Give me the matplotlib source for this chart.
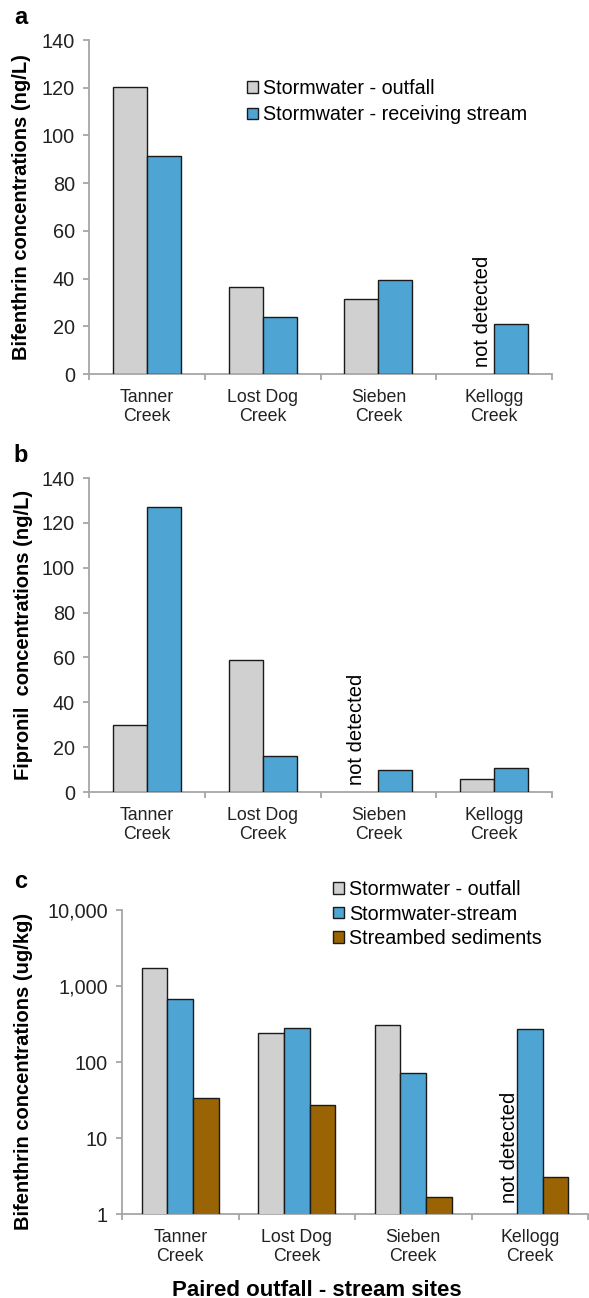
import numpy as np
import matplotlib
matplotlib.use('Agg')
import matplotlib.pyplot as plt
from matplotlib.ticker import FuncFormatter, NullLocator

plt.rcParams['font.family'] = ['Liberation Sans', 'DejaVu Sans']

SITES = ['Tanner\nCreek', 'Lost Dog\nCreek', 'Sieben\nCreek', 'Kellogg\nCreek']

# panel a - bifenthrin in stormwater (ng/L), None = not detected
bif_outfall = [120.5, 36.5, 31.5, None]
bif_stream = [91.5, 24, 39.5, 21]

# panel b - fipronil in stormwater (ng/L)
fip_outfall = [30, 59, None, 6]
fip_stream = [127, 16, 10, 10.5]

# panel c - bifenthrin normalised (ug/kg)
c_outfall = [1700, 240, 307, None]
c_stream = [668, 283, 72, 274]
c_sediment = [34, 27, 1.67, 3.07]

GRAY = '#CFD0CF'
BLUE = '#4EA5D3'
BROWN = '#9A6404'
SPINE = '#A6A6A6'

fig = plt.figure(figsize=(5.89, 12.98), dpi=100)
W, H = 589, 1298


def px_axes(left, right, top, bottom):
    return fig.add_axes([left / W, 1 - bottom / H, (right - left) / W, (bottom - top) / H])


def style_axes(ax):
    for s in ['top', 'right']:
        ax.spines[s].set_visible(False)
    for s in ['left', 'bottom']:
        ax.spines[s].set_color(SPINE)
        ax.spines[s].set_linewidth(1.3)
    ax.set_xlim(-0.5, 3.5)
    ax.set_xticks([-0.5, 0.5, 1.5, 2.5, 3.5])
    ax.set_xticklabels([])
    ax.set_xticks(range(4), minor=True)
    ax.set_xticklabels(SITES, minor=True, fontsize=12.8, linespacing=1.1, color='#222222')
    ax.tick_params(axis='x', which='major', direction='out', length=4.5, width=1.3, color=SPINE)
    ax.tick_params(axis='x', which='minor', length=0, pad=11)
    ax.tick_params(axis='y', which='major', direction='out', length=4.5, width=1.3, color=SPINE,
                   labelsize=14.3, pad=5.5, labelcolor='#222222')


def draw_bars(ax, series, colors, width):
    n = len(series)
    for k, (vals, col) in enumerate(zip(series, colors)):
        off = (k - (n - 1) / 2) * width
        xs = [i + off for i, v in enumerate(vals) if v is not None]
        hs = [v for v in vals if v is not None]
        ax.bar(xs, hs, width=width, color=col, edgecolor='#1a1a1a', linewidth=1.0, zorder=3)


# ---- panel a
ax1 = px_axes(89, 552, 40, 374)
draw_bars(ax1, [bif_outfall, bif_stream], [GRAY, BLUE], 0.293)
ax1.set_ylim(0, 140)
ax1.set_yticks(range(0, 141, 20))
style_axes(ax1)
ax1.set_ylabel('Bifenthrin concentrations (ng/L)', fontsize=14.5, fontweight='bold')
ax1.yaxis.set_label_coords(-0.125, 0.5)
ax1.text(2.9, 2.9, 'not detected', rotation=90, ha='center', va='bottom', fontsize=14.5)
h1 = [plt.Rectangle((0, 0), 1, 1, facecolor=GRAY, edgecolor='#1a1a1a', linewidth=1.0),
      plt.Rectangle((0, 0), 1, 1, facecolor=BLUE, edgecolor='#1a1a1a', linewidth=1.0)]
fig.legend(h1, ['Stormwater - outfall', 'Stormwater - receiving stream'],
           loc='center left', bbox_to_anchor=(247 / W, 1 - 101.5 / H), frameon=False,
           fontsize=14.2, handlelength=0.55, handleheight=0.55, handletextpad=0.25,
           labelspacing=0.4, borderpad=0, borderaxespad=0)
fig.text(21 / W, 1 - 17 / H, 'a', fontsize=17, fontweight='bold', ha='center', va='center')

# ---- panel b
ax2 = px_axes(89, 552, 478, 792)
draw_bars(ax2, [fip_outfall, fip_stream], [GRAY, BLUE], 0.293)
ax2.set_ylim(0, 140)
ax2.set_yticks(range(0, 141, 20))
style_axes(ax2)
ax2.set_ylabel('Fipronil  concentrations (ng/L)', fontsize=14.5, fontweight='bold')
ax2.yaxis.set_label_coords(-0.12, 0.5)
ax2.text(1.81, 3.1, 'not detected', rotation=90, ha='center', va='bottom', fontsize=14.5)
fig.text(21 / W, 1 - 455 / H, 'b', fontsize=17, fontweight='bold', ha='center', va='center')

# ---- panel c
ax3 = px_axes(122, 588, 910, 1214)
draw_bars(ax3, [c_outfall, c_stream, c_sediment], [GRAY, BLUE, BROWN], 0.219)
ax3.set_yscale('log')
ax3.set_ylim(1, 10000)
ax3.set_yticks([1, 10, 100, 1000, 10000])
ax3.yaxis.set_minor_locator(NullLocator())
ax3.yaxis.set_major_formatter(FuncFormatter(lambda v, p: '{:,.0f}'.format(v)))
style_axes(ax3)
ax3.set_ylabel('Bifenthrin concentrations (ug/kg)', fontsize=14.5, fontweight='bold')
ax3.yaxis.set_label_coords(-0.19, 0.47)
ax3.text(2.83, 1.4, 'not detected', rotation=90, ha='center', va='bottom', fontsize=14.5)
h3 = [plt.Rectangle((0, 0), 1, 1, facecolor=c, edgecolor='#1a1a1a', linewidth=1.0)
      for c in [GRAY, BLUE, BROWN]]
fig.legend(h3, ['Stormwater - outfall', 'Stormwater-stream', 'Streambed sediments'],
           loc='center left', bbox_to_anchor=(333 / W, 1 - 914 / H), frameon=False,
           fontsize=14.2, handlelength=0.55, handleheight=0.55, handletextpad=0.25,
           labelspacing=0.3, borderpad=0, borderaxespad=0)
fig.text(21 / W, 1 - 882 / H, 'c', fontsize=17, fontweight='bold', ha='center', va='center')
fig.text(317 / W, 1 - 1290 / H, 'Paired outfall - stream sites', fontsize=16,
         fontweight='bold', ha='center', va='center')

fig.savefig('out.png', dpi=100)
